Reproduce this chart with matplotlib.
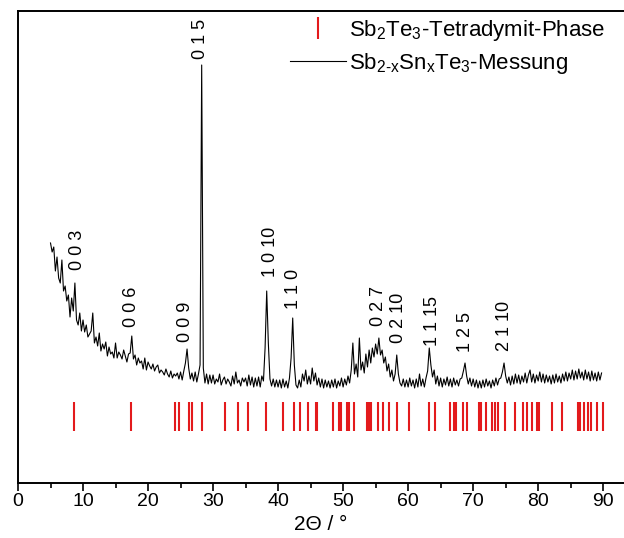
import numpy as np
import matplotlib
matplotlib.use("Agg")
import matplotlib.pyplot as plt
from matplotlib.lines import Line2D

plt.rcParams['font.family'] = ['Liberation Sans', 'DejaVu Sans']
plt.rcParams['mathtext.fontset'] = 'custom'
plt.rcParams['mathtext.rm'] = 'Liberation Sans'
plt.rcParams['mathtext.it'] = 'Liberation Sans'

# measured pattern, 2theta from 5 to 89.75 deg in 0.25 deg steps (one row = 5 deg)
start_angle = 5.0
step = 0.25
intensity = [
    240, 231, 236, 212, 226, 205, 200, 223, 192, 197, 182, 188, 166, 185, 172, 200, 163, 158, 170, 152,
    163, 151, 158, 146, 149, 152, 170, 140, 146, 137, 150, 132, 139, 134, 141, 127, 136, 129, 131, 125,
    140, 125, 131, 128, 124, 133, 127, 121, 129, 130, 147, 124, 128, 118, 125, 120, 122, 114, 125, 113,
    121, 117, 114, 119, 112, 116, 118, 110, 113, 111, 108, 114, 109, 106, 112, 105, 109, 107, 110, 104,
    111, 103, 112, 120, 134, 115, 104, 110, 102, 111, 101, 109, 118, 418, 115, 100, 109, 99, 108, 100,
    108, 99, 104, 101, 109, 98, 103, 106, 99, 104, 101, 97, 107, 99, 111, 100, 103, 97, 105, 101,
    105, 97, 108, 98, 106, 96, 105, 97, 106, 96, 107, 102, 135, 192, 140, 104, 97, 104, 96, 103,
    96, 103, 95, 104, 96, 102, 95, 105, 125, 165, 118, 98, 95, 103, 96, 109, 102, 113, 99, 107,
    99, 115, 102, 110, 98, 105, 96, 104, 95, 103, 96, 102, 95, 103, 96, 104, 95, 102, 97, 105,
    96, 104, 98, 107, 100, 113, 140, 109, 119, 106, 145, 113, 121, 110, 129, 116, 133, 120, 135, 126,
    139, 129, 145, 128, 133, 120, 126, 112, 119, 106, 113, 102, 109, 128, 109, 100, 97, 104, 96, 103,
    96, 105, 97, 103, 95, 104, 96, 109, 97, 104, 96, 105, 112, 135, 118, 106, 113, 99, 107, 97,
    105, 96, 104, 98, 106, 97, 104, 96, 105, 98, 103, 97, 104, 105, 112, 120, 107, 99, 105, 97,
    104, 96, 103, 95, 102, 95, 103, 96, 104, 97, 102, 95, 103, 97, 105, 98, 104, 105, 111, 120,
    107, 100, 106, 98, 107, 99, 109, 100, 108, 99, 107, 101, 110, 100, 108, 113, 101, 109, 100, 108,
    102, 111, 101, 109, 100, 108, 101, 107, 99, 108, 100, 109, 101, 107, 100, 109, 102, 111, 102, 110,
    104, 113, 103, 112, 104, 114, 105, 111, 103, 113, 104, 111, 102, 112, 103, 110, 102, 111, 103, 110,
]
two_theta = start_angle + step * np.arange(len(intensity))

# reference reflections of Sb2Te3 (tetradymite)
ref_positions = [8.6, 17.4, 24.2, 24.7, 26.3, 26.8, 28.3, 31.8, 33.9, 35.4, 38.2, 40.7,
                 42.4, 43.4, 44.6, 45.8, 46.0, 48.5, 49.4, 49.7, 50.6, 50.9, 51.7, 53.7,
                 54.0, 54.3, 55.4, 56.2, 57.0, 58.3, 60.1, 63.2, 64.2, 66.4, 67.0, 67.3,
                 68.4, 69.0, 70.9, 71.2, 71.9, 72.9, 73.3, 73.8, 74.9, 76.5, 77.6, 78.3,
                 79.0, 79.8, 80.1, 82.1, 83.7, 86.1, 86.5, 87.1, 87.7, 88.2, 89.1, 90.0]

# hkl labels: text, 2theta position, height (centre)
hkl_labels = ['0 0 3', '0 0 6', '0 0 9', '0 1 5', '1 0 10', '1 1 0',
              '0 2 7', '0 2 10', '1 1 15', '1 2 5', '2 1 10']
hkl_x = [9.1, 17.5, 25.8, 28.0, 38.8, 42.3, 55.5, 58.5, 63.8, 68.9, 74.8]
hkl_y = [233, 176, 161, 444, 231, 194, 177, 165, 162, 151, 157]

red = '#e31a1c'

fig = plt.figure(figsize=(6.24, 5.38), dpi=100)
ax = fig.add_axes([18 / 624, 55 / 538, 606 / 624, 472 / 538])

ax.plot(two_theta, intensity, color='black', lw=0.8)
ax.vlines(ref_positions, 52, 81, color=red, lw=1.5)

for lab, xx, yy in zip(hkl_labels, hkl_x, hkl_y):
    ax.text(xx, yy, lab, rotation=90, ha='center', va='center', fontsize=13)

ax.set_xlim(0, 93.2)
ax.set_ylim(0, 472)
ax.set_xticks(np.arange(0, 91, 10))
ax.set_xticks(np.arange(5, 91, 10), minor=True)
ax.set_yticks([])
ax.tick_params(axis='x', which='major', length=6, width=1.2, labelsize=14, pad=1)
ax.tick_params(axis='x', which='minor', length=3.5, width=1.2)
ax.spines['right'].set_visible(False)
for s in ['left', 'top', 'bottom']:
    ax.spines[s].set_linewidth(1.4)
ax.set_xlabel('2\u0398 / \u00b0', fontsize=15, labelpad=4)

handles = [Line2D([], [], color=red, marker='|', ls='None', markersize=16, mew=1.5),
           Line2D([], [], color='black', lw=0.8)]
labels = ['Sb$_2$Te$_3$-Tetradymit-Phase', 'Sb$_{\\mathrm{2\u2010x}}$Sn$_\\mathrm{x}$Te$_3$-Messung']
fig.legend(handles, labels, loc='upper left', bbox_to_anchor=(290 / 624, 1 - 18 / 538),
           frameon=False, fontsize=16, handlelength=2.5, handletextpad=0.15,
           borderpad=0, borderaxespad=0, labelspacing=0.35)

fig.savefig('out.png', dpi=100)
